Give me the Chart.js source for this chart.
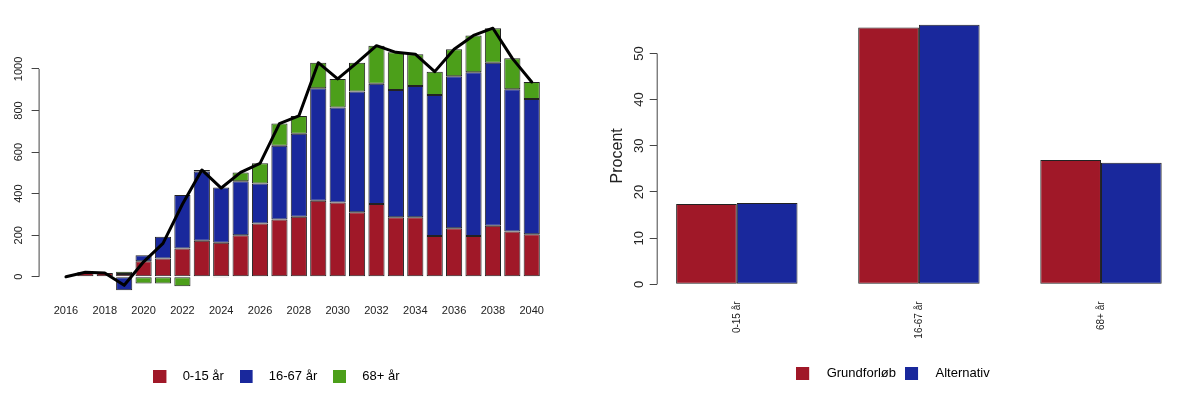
<!DOCTYPE html>
<html>
<head>
<meta charset="utf-8">
<script src="https://cdn.jsdelivr.net/npm/chart.js@4.4.0/dist/chart.umd.min.js"></script>
<style>
  html, body { margin: 0; padding: 0; background: #fff; overflow: hidden; }
  #left { position: absolute; left: -6px; top: 0; width: 596px; height: 398px; }
  #right { position: absolute; left: 590px; top: 0; width: 593px; height: 398px; }
</style>
</head>
<body>
<div id="left"><canvas id="age-chart"></canvas></div>
<div id="right"><canvas id="share-chart"></canvas></div>
<script>
// Left chart: change per year split on age groups, with the total as a line
const years = [2016, 2017, 2018, 2019, 2020, 2021, 2022, 2023, 2024, 2025, 2026, 2027, 2028,
  2029, 2030, 2031, 2032, 2033, 2034, 2035, 2036, 2037, 2038, 2039, 2040];
const kids = [0, 22, 18, 14, 75, 88, 136, 173, 164, 200, 257, 276, 289,
  366, 358, 310, 350, 286, 286, 196, 233, 196, 246, 218, 205];
const working = [0, 0, 0, -65, 29, 105, 258, 333, 266, 260, 192, 355, 399,
  541, 457, 582, 579, 613, 632, 679, 732, 788, 784, 684, 650];
const elderly = [0, 0, 0, 10, -32, -32, -45, 8, -3, 42, 97, 106, 86,
  123, 137, 138, 183, 181, 153, 112, 130, 177, 166, 149, 82];
const total = [0, 22, 18, -41, 72, 161, 349, 514, 427, 502, 546, 737, 774,
  1030, 952, 1030, 1112, 1080, 1071, 987, 1095, 1161, 1196, 1051, 937];
const yearTicks = [2016, 2018, 2020, 2022, 2024, 2026, 2028, 2030, 2032, 2034, 2036, 2038, 2040];
const leftYTicks = [0, 200, 400, 600, 800, 1000];
const ageLabels = ['0-15 år', '16-67 år', '68+ år'];

// Right chart: share of each age group in the two scenarios
const groups = ['0-15 år', '16-67 år', '68+ år'];
const grundforlob = [17.4, 55.6, 26.9];
const alternativ = [17.6, 56.2, 26.3];
const rightYTicks = [0, 10, 20, 30, 40, 50];
const scenarioLabels = ['Grundforløb', 'Alternativ'];

const RED = '#A01828';
const BLUE = '#19289C';
const GREEN = '#4C9F1A';
const EDGE = '#222';

Chart.defaults.font.family = "'Liberation Sans', Arial, sans-serif";
Chart.defaults.color = '#222';

// R style axis: the line only runs between the first and last tick
const rAxisLine = {
  id: 'rAxisLine',
  afterDatasetsDraw(chart, args, opts) {
    const y = chart.scales.y;
    const ctx = chart.ctx;
    ctx.save();
    ctx.strokeStyle = '#444';
    ctx.lineWidth = 1;
    ctx.beginPath();
    ctx.moveTo(y.right + 0.5, y.getPixelForValue(opts.from));
    ctx.lineTo(y.right + 0.5, y.getPixelForValue(opts.to));
    ctx.stroke();
    ctx.restore();
  }
};

// legend swatch with some empty room behind it, so the text sits further away
function swatch(color, width, size) {
  const c = document.createElement('canvas');
  c.width = width;
  c.height = size;
  const g = c.getContext('2d');
  g.fillStyle = color;
  g.fillRect(0, 0, size, size);
  return c;
}

function legendItems(labels, colors, width) {
  return labels.map((text, i) => ({
    text: text,
    pointStyle: swatch(colors[i], width, 13),
    fillStyle: colors[i],
    strokeStyle: 'transparent',
    lineWidth: 0,
    hidden: false,
    datasetIndex: i
  }));
}

function points(xs, vals) {
  return xs.map((x, i) => ({ x: x, y: vals[i] }));
}

function barSet(label, vals, color) {
  return {
    type: 'bar',
    label: label,
    data: points(years, vals),
    backgroundColor: color,
    borderColor: EDGE,
    borderWidth: 1,
    borderSkipped: false,
    stack: 'age',
    order: 1,
    barPercentage: 0.833,
    categoryPercentage: 1
  };
}

new Chart(document.getElementById('age-chart'), {
  type: 'bar',
  data: {
    datasets: [
      barSet(ageLabels[0], kids, RED),
      barSet(ageLabels[1], working, BLUE),
      barSet(ageLabels[2], elderly, GREEN),
      {
        type: 'line',
        label: 'I alt',
        data: points(years, total),
        borderColor: '#000',
        borderWidth: 3,
        borderJoinStyle: 'round',
        borderCapStyle: 'round',
        pointRadius: 0,
        tension: 0,
        stack: 'total',
        order: 0
      }
    ]
  },
  options: {
    responsive: true,
    maintainAspectRatio: false,
    animation: false,
    layout: { padding: { left: 0, right: 30.9, top: 17.8, bottom: 5.5 } },
    scales: {
      x: {
        type: 'linear',
        min: 2014.59,
        max: 2041.41,
        offset: false,
        stacked: true,
        grid: { display: false, drawTicks: false },
        border: { display: false },
        ticks: {
          autoSkip: false,
          minRotation: 0,
          maxRotation: 0,
          padding: 4,
          font: { size: 11 },
          callback: v => String(v)
        },
        afterBuildTicks: s => { s.ticks = yearTicks.map(v => ({ value: v })); },
        afterFit: s => { s.height = 52.8; }
      },
      y: {
        type: 'linear',
        min: -115,
        max: 1246,
        stacked: true,
        grid: { drawOnChartArea: false, drawTicks: true, tickLength: 7, color: '#444' },
        border: { display: false },
        ticks: {
          minRotation: 90,
          maxRotation: 90,
          crossAlign: 'center',
          padding: 0,
          font: { size: 11 },
          callback: v => String(v)
        },
        afterBuildTicks: s => { s.ticks = leftYTicks.map(v => ({ value: v })); },
        afterFit: s => { s.width = 44.6; }
      }
    },
    plugins: {
      rAxisLine: { from: 0, to: 1000 },
      tooltip: { enabled: false },
      legend: {
        position: 'bottom',
        labels: {
          usePointStyle: true,
          pointStyleWidth: 22.5,
          padding: 16,
          font: { size: 13 },
          color: '#222',
          generateLabels: () => legendItems(ageLabels, [RED, BLUE, GREEN], 23)
        }
      }
    }
  },
  plugins: [rAxisLine]
});

const groupIndex = groups.map((g, i) => i);

function scenarioSet(label, vals, color) {
  return {
    label: label,
    data: points(groupIndex, vals),
    backgroundColor: color,
    borderColor: EDGE,
    borderWidth: 1,
    borderSkipped: false,
    barPercentage: 1,
    categoryPercentage: 2 / 3
  };
}

new Chart(document.getElementById('share-chart'), {
  type: 'bar',
  data: {
    datasets: [
      scenarioSet(scenarioLabels[0], grundforlob, RED),
      scenarioSet(scenarioLabels[1], alternativ, BLUE)
    ]
  },
  options: {
    responsive: true,
    maintainAspectRatio: false,
    animation: false,
    layout: { padding: { left: 14.8, right: 1.9, top: 14.3, bottom: 8.2 } },
    scales: {
      x: {
        type: 'linear',
        min: -0.44,
        max: 2.44,
        offset: false,
        grid: { display: false, drawTicks: false },
        border: { display: false },
        ticks: {
          autoSkip: false,
          minRotation: 90,
          maxRotation: 90,
          padding: 4,
          font: { size: 10 },
          callback: v => groups[v]
        },
        afterBuildTicks: s => { s.ticks = groupIndex.map(v => ({ value: v })); },
        afterFit: s => { s.height = 60.4; }
      },
      y: {
        type: 'linear',
        min: -2.83,
        max: 58.47,
        grid: { drawOnChartArea: false, drawTicks: true, tickLength: 7, color: '#444' },
        border: { display: false },
        title: {
          display: true,
          text: 'Procent',
          font: { size: 16 },
          padding: { top: 3, bottom: 0 },
          color: '#222'
        },
        ticks: {
          minRotation: 90,
          maxRotation: 90,
          crossAlign: 'center',
          padding: 3,
          font: { size: 13 }
        },
        afterBuildTicks: s => { s.ticks = rightYTicks.map(v => ({ value: v })); },
        afterFit: s => { s.width = 51.9; }
      }
    },
    plugins: {
      rAxisLine: { from: 0, to: 50 },
      tooltip: { enabled: false },
      legend: {
        position: 'bottom',
        labels: {
          usePointStyle: true,
          pointStyleWidth: 24,
          padding: 9,
          font: { size: 13 },
          color: '#222',
          generateLabels: () => legendItems(scenarioLabels, [RED, BLUE], 24)
        }
      }
    }
  },
  plugins: [rAxisLine]
});
</script>
</body>
</html>
